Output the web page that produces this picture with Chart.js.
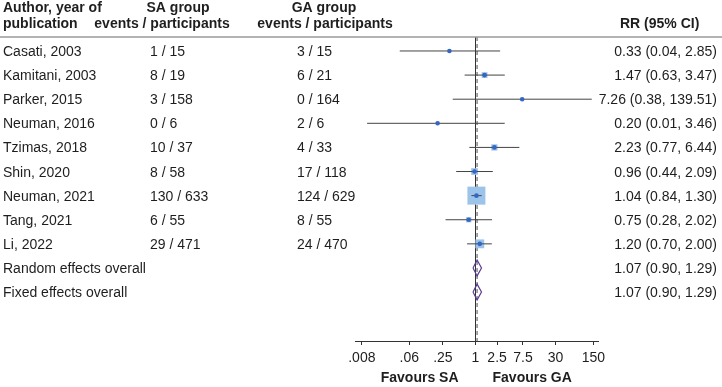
<!doctype html>
<html>
<head>
<meta charset="utf-8">
<title>Forest plot</title>
<script src="https://cdn.jsdelivr.net/npm/chart.js@4.4.0/dist/chart.umd.min.js"></script>
<style>
  html, body { margin: 0; padding: 0; background: #fff; }
  #wrap { width: 722px; height: 387px; }
</style>
</head>
<body>
<div id="wrap"><canvas id="forest" width="722" height="387"></canvas></div>
<script>
// study rows
var studies = ["Casati, 2003", "Kamitani, 2003", "Parker, 2015", "Neuman, 2016", "Tzimas, 2018",
  "Shin, 2020", "Neuman, 2021", "Tang, 2021", "Li, 2022"];
var saEvents = [1, 8, 3, 0, 10, 8, 130, 6, 29];
var saTotal = [15, 19, 158, 6, 37, 58, 633, 55, 471];
var gaEvents = [3, 6, 0, 2, 4, 17, 124, 8, 24];
var gaTotal = [15, 21, 164, 6, 33, 118, 629, 55, 470];
var rr = [0.33, 1.47, 7.26, 0.20, 2.23, 0.96, 1.04, 0.75, 1.20];
var rrLow = [0.04, 0.63, 0.38, 0.01, 0.77, 0.44, 0.84, 0.28, 0.70];
var rrHigh = [2.85, 3.47, 139.51, 3.46, 6.44, 2.09, 1.30, 2.02, 2.00];
var weights = [1.2, 6, 0.5, 0.8, 7, 8, 58, 5, 14];

// pooled rows
var pooled = ["Random effects overall", "Fixed effects overall"];
var pooledRR = [1.07, 1.07];
var pooledLow = [0.90, 0.90];
var pooledHigh = [1.29, 1.29];

var tickValues = [0.008, 0.06, 0.25, 1, 2.5, 7.5, 30, 150];
var tickLabels = [".008", ".06", ".25", "1", "2.5", "7.5", "30", "150"];

var FONT = '"Liberation Sans", Arial, Helvetica, sans-serif';
var yMin = -0.58, yMax = 12.03;

function fmt(v) { return v.toFixed(2); }

// build datasets
var datasets = [];
var maxW = Math.max.apply(null, weights);

datasets.push({
  label: 'est', data: rr.map(function (v, i) { return { x: v, y: i }; }),
  pointRadius: 2.3, pointHoverRadius: 2.3, backgroundColor: '#3566c2', borderWidth: 0, order: 0
});

rr.forEach(function (v, i) {
  datasets.push({
    label: 'ci' + i, data: [{ x: rrLow[i], y: i }, { x: rrHigh[i], y: i }],
    showLine: true, borderColor: '#444', borderWidth: 1, pointRadius: 0, order: 1
  });
});

datasets.push({
  label: 'weight', data: rr.map(function (v, i) { return { x: v, y: i }; }),
  pointStyle: 'rect',
  pointRadius: weights.map(function (w) { return 18 * Math.sqrt(w / maxW) * Math.SQRT1_2; }),
  backgroundColor: '#9cc3ea', borderWidth: 0, order: 2
});

pooled.forEach(function (p, j) {
  var y = studies.length + j;
  datasets.push({
    label: p, data: [
      { x: pooledLow[j], y: y }, { x: pooledRR[j], y: y - 0.33 },
      { x: pooledHigh[j], y: y }, { x: pooledRR[j], y: y + 0.33 }, { x: pooledLow[j], y: y }
    ],
    showLine: true, borderColor: '#5b3c90', borderWidth: 1.2, pointRadius: 0, order: 1
  });
});

// no-effect line and pooled estimate line
datasets.push({
  label: 'null', data: [{ x: 1, y: yMin }, { x: 1, y: yMax }],
  showLine: true, borderColor: '#333', borderWidth: 1, pointRadius: 0, order: 3
});
datasets.push({
  label: 'pooled', data: [{ x: pooledRR[1], y: yMin }, { x: pooledRR[1], y: yMax }],
  showLine: true, borderColor: '#8a8a8a', borderWidth: 1.5, borderDash: [4, 3], pointRadius: 0, order: 3
});

// table text drawn next to the plot
var tablePlugin = {
  id: 'table',
  afterDraw: function (chart) {
    var ctx = chart.ctx, ys = chart.scales.y, xs = chart.scales.x;
    var top = chart.chartArea.top;
    ctx.save();
    ctx.fillStyle = '#1e1e1e';
    ctx.textBaseline = 'alphabetic';

    ctx.font = 'bold 14px ' + FONT;
    ctx.textAlign = 'left';
    ctx.fillText('Author, year of', 3, 12);
    ctx.fillText('publication', 3, 28);
    ctx.textAlign = 'center';
    ctx.fillText('SA group', 178, 12);
    ctx.fillText('events / participants', 162, 28);
    ctx.fillText('GA group', 324, 12);
    ctx.fillText('events / participants', 325, 28);
    ctx.textAlign = 'left';
    ctx.fillText('RR (95% CI)', 620, 28);

    ctx.strokeStyle = '#9a9a9a';
    ctx.lineWidth = 1.5;
    ctx.beginPath();
    ctx.moveTo(0, top);
    ctx.lineTo(722, top);
    ctx.stroke();

    ctx.font = '14px ' + FONT;
    studies.forEach(function (s, i) {
      var y = ys.getPixelForValue(i) + 5;
      ctx.textAlign = 'left';
      ctx.fillText(s, 3, y);
      ctx.fillText(saEvents[i] + ' / ' + saTotal[i], 150, y);
      ctx.fillText(gaEvents[i] + ' / ' + gaTotal[i], 297, y);
      ctx.textAlign = 'right';
      ctx.fillText(fmt(rr[i]) + ' (' + fmt(rrLow[i]) + ', ' + fmt(rrHigh[i]) + ')', 717, y);
    });
    pooled.forEach(function (p, j) {
      var y = ys.getPixelForValue(studies.length + j) + 5;
      ctx.textAlign = 'left';
      ctx.fillText(p, 3, y);
      ctx.textAlign = 'right';
      ctx.fillText(fmt(pooledRR[j]) + ' (' + fmt(pooledLow[j]) + ', ' + fmt(pooledHigh[j]) + ')', 717, y);
    });

    ctx.font = 'bold 14px ' + FONT;
    var x1 = xs.getPixelForValue(1);
    ctx.textAlign = 'right';
    ctx.fillText('Favours SA', x1 - 17, 382);
    ctx.textAlign = 'left';
    ctx.fillText('Favours GA', x1 + 17, 382);
    ctx.restore();
  }
};

new Chart(document.getElementById('forest'), {
  type: 'scatter',
  data: { datasets: datasets },
  options: {
    responsive: false,
    animation: false,
    layout: { padding: { left: 355, right: 124, top: 37, bottom: 0 } },
    plugins: { legend: { display: false }, tooltip: { enabled: false } },
    scales: {
      x: {
        type: 'logarithmic',
        position: 'bottom',
        min: 0.00598,
        max: 182,
        border: { color: '#333', width: 1 },
        grid: { drawOnChartArea: false, drawTicks: true, tickLength: 4, color: '#333' },
        ticks: {
          autoSkip: false, maxRotation: 0, padding: 5, color: '#1e1e1e',
          font: { size: 14, family: FONT },
          callback: function (v, idx) { return tickLabels[idx]; }
        },
        afterBuildTicks: function (scale) {
          scale.ticks = tickValues.map(function (v) { return { value: v }; });
        },
        afterFit: function (scale) { scale.height = 46; }
      },
      y: { type: 'linear', min: yMin, max: yMax, reverse: true, display: false }
    }
  },
  plugins: [tablePlugin]
});
</script>
</body>
</html>
